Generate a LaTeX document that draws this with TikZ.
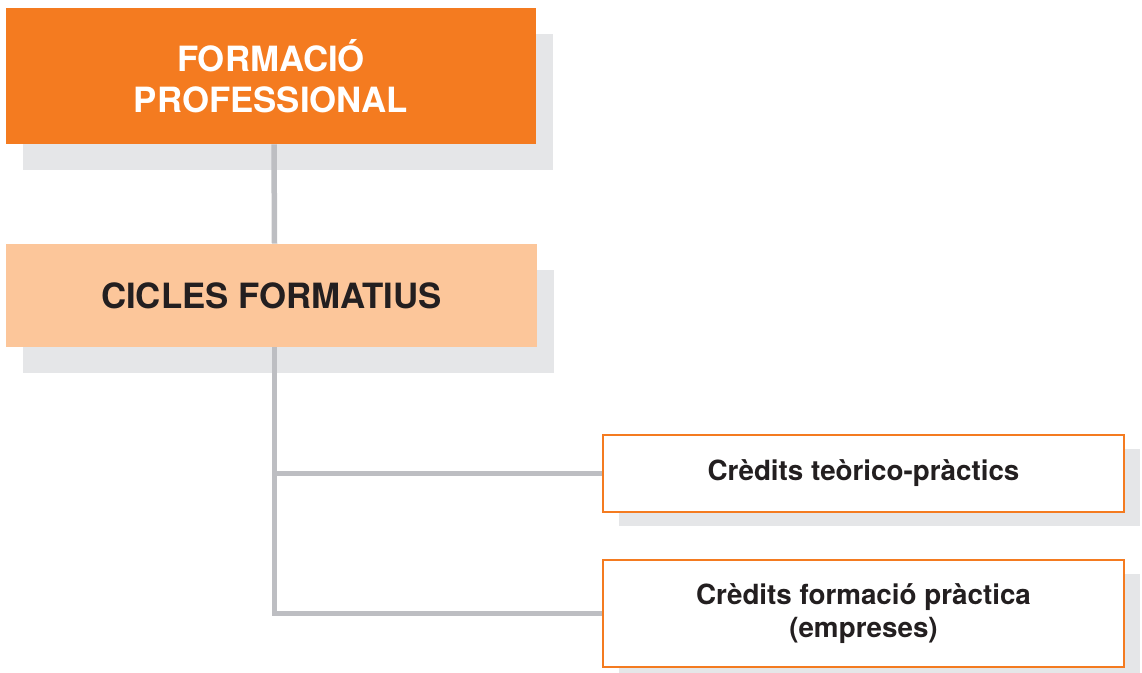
\documentclass[tikz,border=0pt]{standalone}
\usepackage{fontspec}
\setmainfont{TeX Gyre Heros}
\usetikzlibrary{shadows}

\definecolor{fporange}{HTML}{F47B20}
\definecolor{cflight}{HTML}{FCC69A}
\definecolor{shadowgray}{HTML}{E5E6E8}
\definecolor{linegray}{HTML}{BDBEC2}
\definecolor{textdark}{HTML}{231F20}

\begin{document}
\begin{tikzpicture}[
bigblock/.style={rectangle,inner sep=0pt,minimum width=10.6cm,align=center,font=\bfseries\fontsize{19.8}{23}\selectfont,
  drop shadow={shadow xshift=0.34cm,shadow yshift=-0.52cm,fill=shadowgray,opacity=1}},
smallblock/.style={rectangle,draw=fporange,line width=1.4pt,fill=white,inner sep=0pt,minimum width=10.42cm,align=center,
  text=textdark,font=\bfseries\fontsize{15.8}{19}\selectfont,
  drop shadow={shadow xshift=0.32cm,shadow yshift=-0.28cm,fill=shadowgray,opacity=1}},
link/.style={draw=linegray,line width=0.11cm}]

\useasboundingbox (0,0) rectangle (22.84,-13.44);

\draw (5.42,-1.52) node[bigblock,fill=fporange,text=white,minimum height=2.72cm] (fp) {FORMACIÓ\\PROFESSIONAL};
\draw (5.43,-5.91) node[bigblock,fill=cflight,text=textdark,minimum height=2.06cm] (cf) {CICLES FORMATIUS};
\draw (17.27,-9.47) node[smallblock,minimum height=1.54cm] (tp) {Crèdits teòrico-pràctics};
\draw (17.27,-12.27) node[smallblock,minimum height=2.14cm] (pr) {Crèdits formació pràctica\\(empreses)};

\draw[link] ([xshift=0.06cm]fp.south) -- ([xshift=0.06cm]cf.north);
\draw[link] ([xshift=0.06cm]cf.south) |- (tp.west);
\draw[link] ([xshift=0.06cm]cf.south) |- (pr.west);
\end{tikzpicture}
\end{document}
